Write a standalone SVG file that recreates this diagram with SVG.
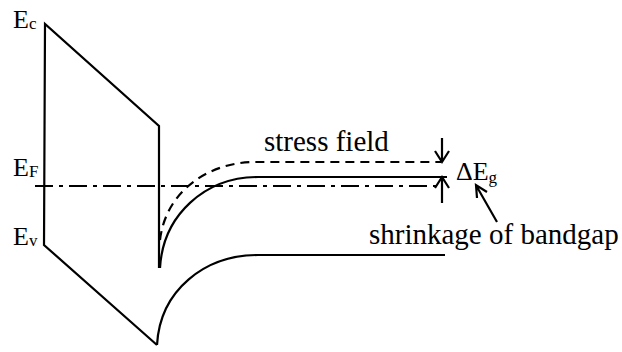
<svg xmlns="http://www.w3.org/2000/svg" width="622" height="352" viewBox="0 0 622 352">
<style>
.ln{fill:none;stroke:#000;stroke-width:2.2;stroke-linejoin:miter}
.dash{stroke-dasharray:9 6}
.dd{stroke-dasharray:18 6 4 6}
text{font-family:'Liberation Serif','Times New Roman',Times,Tinos,'Nimbus Roman','Nimbus Roman No9 L','FreeSerif','Noto Serif','DejaVu Serif',serif;fill:#000}
</style>
<rect width="622" height="352" fill="#fff"/>
<g id="barrier">
<path class="ln" d="M159,268 L159,126 L45,24 L44,245 L157,345"/>
</g>
<g id="bands">
<path class="ln" d="M157,345 C160,290 205,255 258,255 L445,255"/>
<path class="ln" d="M160,268 C163,215 205,177 258,177 L447,177"/>
<path class="ln dash" d="M160,240 C166,190 210,162 255,162 L441,162"/>
<path class="ln dd" d="M35,186 L437,186"/>
</g>
<g id="connectors">
<path class="ln" d="M442,138 L442,161 M435,151 L442,162 L449,151"/>
<path class="ln" d="M442,203 L442,178 M435,188 L442,177 L449,188"/>
<path class="ln" d="M497,222 L477,187 M477,198 L476,185 L487,192"/>
</g>
<g id="labels">
<text font-size="26" x="13" y="28">E<tspan font-size="17" dy="1">c</tspan></text>
<text font-size="26" x="13" y="176">E<tspan font-size="17" dy="1">F</tspan></text>
<text font-size="26" x="13" y="245">E<tspan font-size="17" dy="1">v</tspan></text>
<text font-size="26" x="456" y="180">ΔE<tspan font-size="17" dy="3">g</tspan></text>
<text font-size="29" x="264" y="151">stress field</text>
<text font-size="29" x="369" y="244">shrinkage of bandgap</text>
</g>
</svg>
